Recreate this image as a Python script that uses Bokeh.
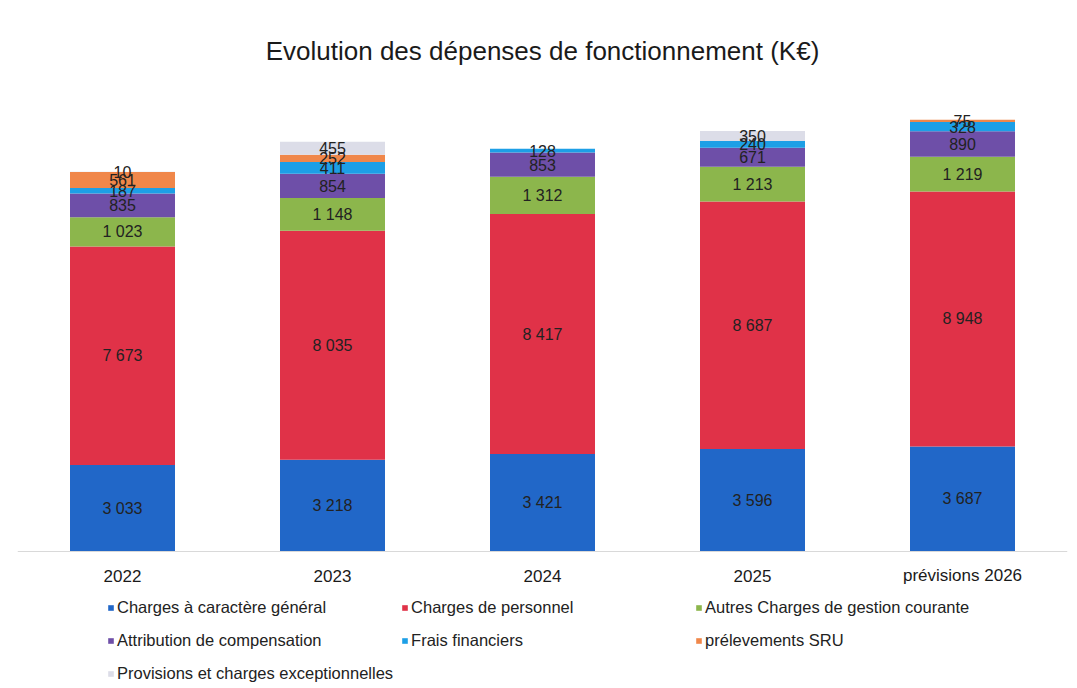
from bokeh.plotting import figure
from bokeh.models import ColumnDataSource, FactorRange, Range1d, Legend, LegendItem, Span
from bokeh.embed import file_html
from bokeh.resources import INLINE
from bokeh.core.properties import value

categories = ["2022", "2023", "2024", "2025", "prévisions 2026"]
series_names = [
    "Charges à caractère général",
    "Charges de personnel",
    "Autres Charges de gestion courante",
    "Attribution de compensation",
    "Frais financiers",
    "prélevements SRU",
    "Provisions et charges exceptionnelles",
]
charges_generales = [3033, 3218, 3421, 3596, 3687]
charges_personnel = [7673, 8035, 8417, 8687, 8948]
autres_charges = [1023, 1148, 1312, 1213, 1219]
attribution = [835, 854, 853, 671, 890]
frais_financiers = [187, 411, 128, 240, 328]
prelevements_sru = [561, 252, 0, 0, 75]
provisions = [10, 455, 0, 350, 0]
title_text = "Evolution des dépenses de fonctionnement (K€)"

colors = ["#2167c8", "#e03248", "#8cb64c", "#6e4fa8", "#1d9fe6", "#f0874a", "#dcdde8"]

series = [charges_generales, charges_personnel, autres_charges, attribution,
          frais_financiers, prelevements_sru, provisions]
keys = ["s%d" % i for i in range(len(series))]
data = {"cat": categories}
for k, s in zip(keys, series):
    data[k] = s
source = ColumnDataSource(data)

FONT = "Liberation Sans"
W, H = 1077, 688
BASE_PX = 551          # baseline, px from top
VMAX, VMAX_PX = 16000, 456
U = VMAX / VMAX_PX     # units per pixel

p = figure(width=W, height=H, x_range=FactorRange(*categories),
           y_range=Range1d(-(H - BASE_PX) * U, BASE_PX * U),
           output_backend="svg", toolbar_location=None,
           min_border_left=17, min_border_right=10, min_border_top=0, min_border_bottom=0)

rs = p.vbar_stack(keys, x="cat", width=0.5, color=colors, source=source, line_color=None)

p.add_layout(Span(location=0, dimension="width", line_color="#d9d9d9", line_width=1))

# data labels
lx, ly, lt = [], [], []
for i, c in enumerate(categories):
    base = 0
    for s in series:
        v = s[i]
        if v > 0:
            lx.append(c)
            ly.append(base + v / 2)
            lt.append("{:,}".format(v).replace(",", " "))
        base += v
lsrc = ColumnDataSource(dict(x=lx, y=ly, t=lt))
p.text(x="x", y="y", text="t", source=lsrc, text_align="center", text_baseline="middle",
       text_font=value(FONT), text_font_size="16px", text_color="#222222")

# category labels under the baseline
csrc = ColumnDataSource(dict(x=categories, y=[-24 * U] * len(categories), t=categories))
p.text(x="x", y="y", text="t", source=csrc, text_align="center", text_baseline="middle",
       text_font=value(FONT), text_font_size="17px", text_color="#1a1a1a")

# title
tsrc = ColumnDataSource(dict(x=[categories[2]], y=[(BASE_PX - 50) * U], t=[title_text]))
p.text(x="x", y="y", text="t", source=tsrc, text_align="center", text_baseline="middle",
       text_font=value(FONT), text_font_size="26px", text_color="#1a1a1a")

p.xaxis.visible = False
p.yaxis.visible = False
p.xgrid.visible = False
p.ygrid.visible = False
p.outline_line_color = None

items = [LegendItem(label=n, renderers=[r]) for n, r in zip(series_names, rs)]
legend = Legend(items=items, ncols=3, orientation="horizontal", location=(90, 2),
                margin=0, padding=0,
                glyph_width=7, glyph_height=7, label_standoff=3, spacing=8,
                label_text_font=FONT, label_text_font_size="16.5px", label_text_color="#222222",
                label_height=25, label_width=276, border_line_color=None,
                background_fill_alpha=0)
p.add_layout(legend, "center")

open("out.html", "w").write(file_html(p, INLINE))
